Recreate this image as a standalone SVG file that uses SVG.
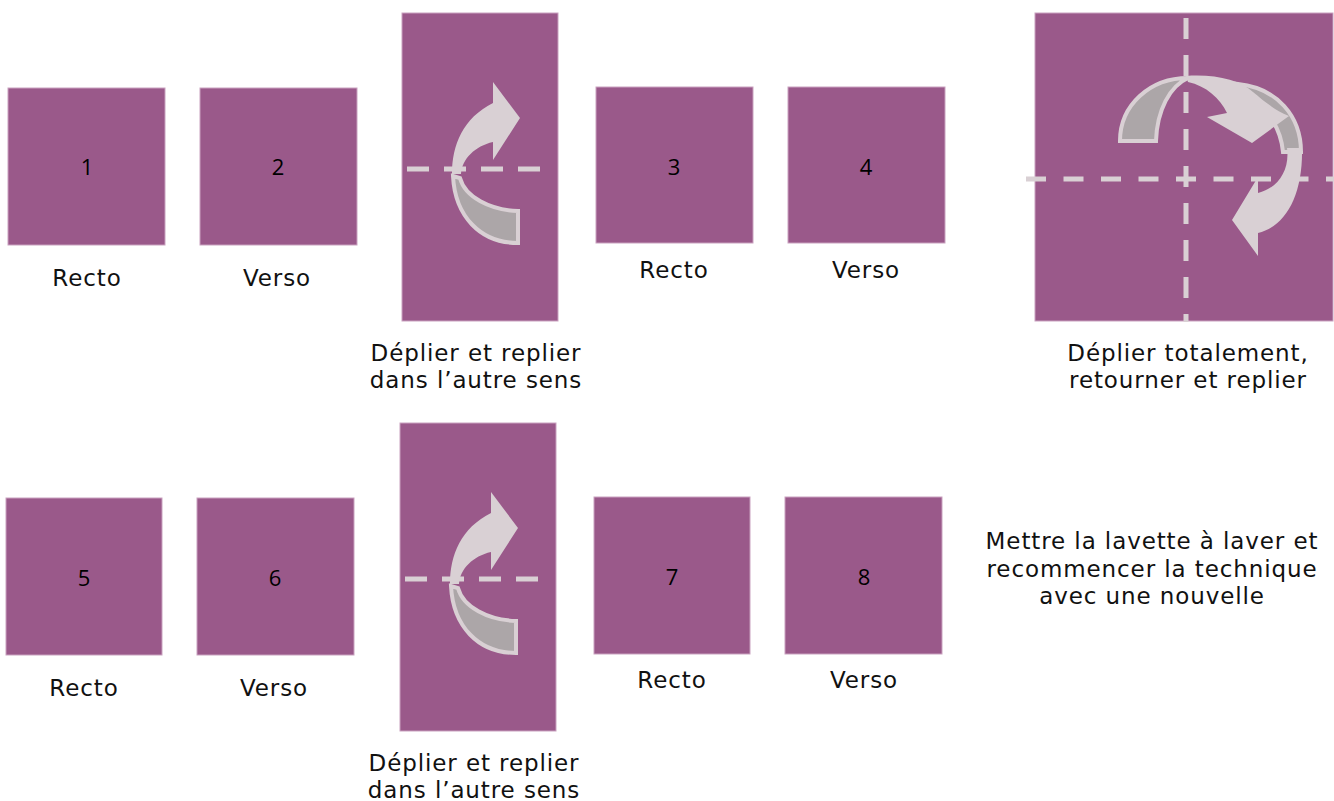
<svg xmlns="http://www.w3.org/2000/svg" xmlns:xlink="http://www.w3.org/1999/xlink" width="1334" height="801" viewBox="0 0 1334 801">
  <style>
    .sheet { fill: #9a598a; stroke: #c9a2bf; stroke-width: 1; }
    .num { font-family: "Open Sans", "Liberation Sans", sans-serif; font-size: 22px; fill: #000; text-anchor: middle; }
    .lbl { font-family: "DejaVu Sans", "Liberation Sans", sans-serif; font-size: 23px; fill: #111; text-anchor: middle; letter-spacing: 0.9px; }
    .dash { stroke: #d9d0d4; stroke-width: 5; fill: none; }
    .light { fill: #d9d0d4; }
    .back { fill: #aca6a8; stroke: #d9d0d4; stroke-width: 4; stroke-linejoin: miter; }
  </style>
  <defs>
    <g id="foldArrow">
      <path class="dash" d="M5,156 H138" stroke-dasharray="22 15"/>
      <path class="back" d="M51,163 C53,203 78,230 116,230 L116,198 C88,197 63,184 58,165 Z"/>
      <path class="light" d="M50,161 C50,132 61,105 91,90 L91,69 L118,105 L91,147 L91,129 C73,133 60,146 59,161 Z"/>
    </g>
  </defs>

  <rect width="1334" height="801" fill="#ffffff"/>

  <!-- Row 1 -->
  <g id="sheet1">
    <rect class="sheet" x="8" y="88" width="157" height="157"/>
    <text class="num" x="87" y="175">1</text>
    <text class="lbl" x="87" y="286">Recto</text>
  </g>
  <g id="sheet2">
    <rect class="sheet" x="200" y="88" width="157" height="157"/>
    <text class="num" x="278" y="175">2</text>
    <text class="lbl" x="277" y="286">Verso</text>
  </g>
  <g id="fold1">
    <rect class="sheet" x="402" y="13" width="156" height="308"/>
    <use xlink:href="#foldArrow" x="402" y="13"/>
    <text class="lbl" x="476" y="361">Déplier et replier</text>
    <text class="lbl" x="476" y="388">dans l’autre sens</text>
  </g>
  <g id="sheet3">
    <rect class="sheet" x="596" y="87" width="157" height="156"/>
    <text class="num" x="674" y="175">3</text>
    <text class="lbl" x="674" y="278">Recto</text>
  </g>
  <g id="sheet4">
    <rect class="sheet" x="788" y="87" width="157" height="156"/>
    <text class="num" x="866" y="175">4</text>
    <text class="lbl" x="866" y="278">Verso</text>
  </g>
  <g id="unfold">
    <rect class="sheet" x="1035" y="13" width="298" height="308"/>
    <path class="dash" d="M1026,179 H1334" stroke-dasharray="20 17.5"/>
    <path class="dash" d="M1186,18 V322" stroke-dasharray="21 16"/>
    <path class="back" d="M1120,141 C1120,105 1150,78 1188,78 C1170,86 1157,110 1156,141 Z"/>
    <path class="back" d="M1238,84 C1277,88 1301,116 1301,152 L1283,152 C1281,130 1270,110 1248,99 Z"/>
    <path class="light" d="M1186,76 C1215,74 1240,80 1253,92 C1264,101 1274,110 1289,116 L1252,143 L1207,117 L1227,113 C1220,98 1206,86 1188,82 Z"/>
    <path class="light" d="M1302,148 C1303,195 1286,226 1258,233 L1258,256 L1232,220 L1258,177 L1258,193 C1278,188 1290,170 1287,148 Z"/>
    <text class="lbl" x="1188" y="361">Déplier totalement,</text>
    <text class="lbl" x="1188" y="388">retourner et replier</text>
  </g>

  <!-- Row 2 -->
  <g id="sheet5">
    <rect class="sheet" x="6" y="498" width="156" height="157"/>
    <text class="num" x="84" y="586">5</text>
    <text class="lbl" x="84" y="696">Recto</text>
  </g>
  <g id="sheet6">
    <rect class="sheet" x="197" y="498" width="157" height="157"/>
    <text class="num" x="275" y="586">6</text>
    <text class="lbl" x="274" y="696">Verso</text>
  </g>
  <g id="fold2">
    <rect class="sheet" x="400" y="423" width="156" height="308"/>
    <use xlink:href="#foldArrow" x="400" y="423"/>
    <text class="lbl" x="474" y="771">Déplier et replier</text>
    <text class="lbl" x="474" y="798">dans l’autre sens</text>
  </g>
  <g id="sheet7">
    <rect class="sheet" x="594" y="497" width="156" height="157"/>
    <text class="num" x="672" y="585">7</text>
    <text class="lbl" x="672" y="688">Recto</text>
  </g>
  <g id="sheet8">
    <rect class="sheet" x="785" y="497" width="157" height="157"/>
    <text class="num" x="864" y="585">8</text>
    <text class="lbl" x="864" y="688">Verso</text>
  </g>
  <g id="final">
    <text class="lbl" x="1152" y="549">Mettre la lavette à laver et</text>
    <text class="lbl" x="1152" y="577">recommencer la technique</text>
    <text class="lbl" x="1152" y="604">avec une nouvelle</text>
  </g>

  <g id="connectors"></g>
</svg>
